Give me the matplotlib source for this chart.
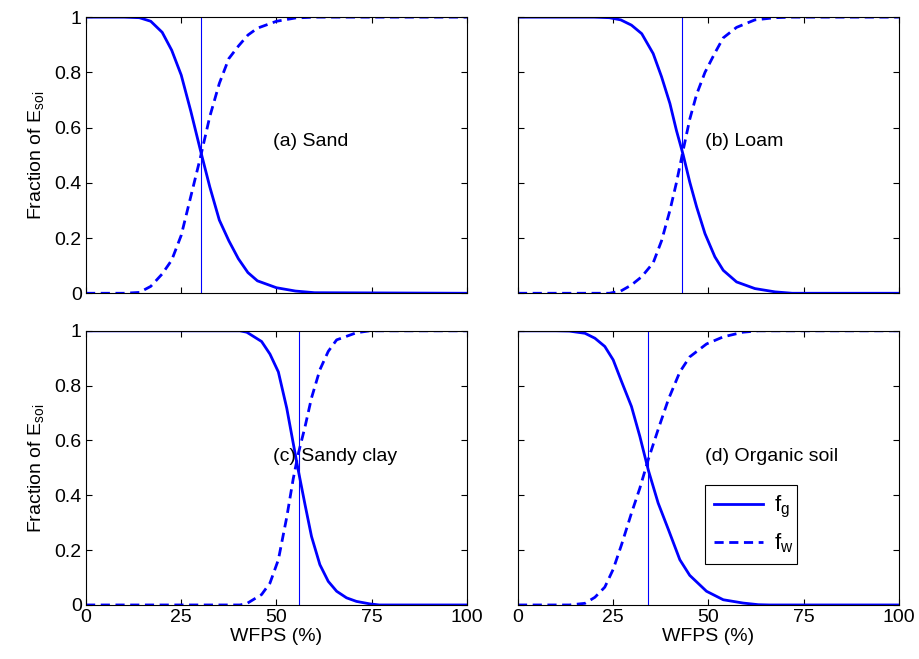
import matplotlib
matplotlib.use('Agg')
import matplotlib.pyplot as plt

plt.rcParams['font.family'] = ['Liberation Sans', 'DejaVu Sans']
plt.rcParams['mathtext.fontset'] = 'custom'
plt.rcParams['mathtext.rm'] = 'Liberation Sans'
plt.rcParams['mathtext.it'] = 'Liberation Sans'

# WFPS (%) sample points and curves
# (a) Sand
sand_x = [0, 10, 14, 17, 20, 22.5, 25, 27.5, 30, 32.5, 35, 37.5, 40, 42.5, 45, 50, 55, 60, 100]
sand_fg = [1, 1, 0.998, 0.985, 0.945, 0.88, 0.79, 0.66, 0.52, 0.385, 0.265, 0.19, 0.125, 0.075, 0.045, 0.02, 0.008, 0.002, 0]
sand_fw = [0, 0, 0.003, 0.025, 0.07, 0.12, 0.21, 0.35, 0.49, 0.64, 0.76, 0.85, 0.895, 0.935, 0.96, 0.985, 0.997, 1, 1]
sand_vline = 30.2

# (b) Loam
loam_x = [0, 20, 24, 27, 29.8, 32.5, 35.5, 37.7, 39.9, 41.6, 43.4, 45.1, 46.9, 49.1, 51.7, 53.9, 57.4, 62.2, 67.5, 72, 100]
loam_fg = [1, 1, 0.998, 0.99, 0.971, 0.94, 0.868, 0.784, 0.687, 0.59, 0.5, 0.403, 0.313, 0.216, 0.132, 0.083, 0.041, 0.017, 0.005, 0, 0]
loam_fw = [0, 0, 0, 0.008, 0.03, 0.06, 0.11, 0.19, 0.30, 0.40, 0.52, 0.63, 0.72, 0.80, 0.87, 0.925, 0.963, 0.99, 0.998, 1, 1]
loam_vline = 43.1

# (c) Sandy clay
clay_x = [0, 38, 40.4, 42.2, 46.1, 48.3, 50.5, 52.7, 54.4, 55.7, 57.5, 59.2, 61.4, 63.6, 65.8, 68.4, 71, 74.5, 77, 100]
clay_fg = [1, 1, 1, 0.995, 0.961, 0.915, 0.85, 0.718, 0.59, 0.493, 0.366, 0.25, 0.147, 0.086, 0.05, 0.026, 0.013, 0.004, 0, 0]
clay_fw = [0, 0, 0, 0.005, 0.038, 0.08, 0.165, 0.32, 0.46, 0.55, 0.65, 0.755, 0.858, 0.925, 0.967, 0.98, 0.993, 1, 1, 1]
clay_vline = 56.0

# (d) Organic soil
org_x = [0, 10, 13.5, 17.6, 20.2, 22.8, 25, 27.2, 29.8, 32, 34.2, 36.8, 39.5, 42.5, 45.1, 49.5, 53.9, 59.1, 63.1, 66, 100]
org_fg = [1, 1, 0.999, 0.991, 0.973, 0.943, 0.894, 0.815, 0.724, 0.615, 0.493, 0.372, 0.275, 0.165, 0.108, 0.05, 0.019, 0.007, 0.001, 0, 0]
org_fw = [0, 0, 0, 0.006, 0.028, 0.065, 0.13, 0.22, 0.335, 0.426, 0.53, 0.64, 0.75, 0.85, 0.905, 0.952, 0.978, 0.995, 1, 1, 1]
org_vline = 34.2

panels = [
    ('(a) Sand', sand_x, sand_fg, sand_fw, sand_vline, 0.55),
    ('(b) Loam', loam_x, loam_fg, loam_fw, loam_vline, 0.55),
    ('(c) Sandy clay', clay_x, clay_fg, clay_fw, clay_vline, 0.54),
    ('(d) Organic soil', org_x, org_fg, org_fw, org_vline, 0.54),
]

xticks = [0, 25, 50, 75, 100]
yticks = [0, 0.2, 0.4, 0.6, 0.8, 1]
yticklabels = ['0', '0.2', '0.4', '0.6', '0.8', '1']

fig = plt.figure(figsize=(9.2, 6.59), dpi=100)
rects = [
    [0.0935, 0.555, 0.414, 0.419],
    [0.563, 0.555, 0.414, 0.419],
    [0.0935, 0.082, 0.414, 0.416],
    [0.563, 0.082, 0.414, 0.416],
]

blue = (0, 0, 1)
fs = 14
for i, (label, x, fg, fw, vline, ty) in enumerate(panels):
    ax = fig.add_axes(rects[i])
    ax.plot(x, fg, '-', color=blue, linewidth=2.0, label=r'f$_\mathregular{g}$')
    ax.plot(x, fw, color=blue, linewidth=2.0, linestyle=(0, (3.3, 2.0)),
            label=r'f$_\mathregular{w}$')
    ax.axvline(vline, color=blue, linewidth=0.8)
    ax.text(49, ty, label, fontsize=fs, ha='left', va='center')

    ax.set_xlim(0, 100)
    ax.set_ylim(0, 1)
    ax.set_xticks(xticks)
    ax.set_yticks(yticks)
    ax.tick_params(direction='in', top=True, right=True, length=4,
                   labelsize=fs, pad=3)
    for sp in ax.spines.values():
        sp.set_linewidth(0.8)

    if i % 2 == 0:
        ax.set_yticklabels(yticklabels)
        ax.set_ylabel(r'Fraction of E$_\mathregular{soi}$', fontsize=fs, labelpad=6)
    else:
        ax.set_yticklabels([])
    if i >= 2:
        ax.set_xlabel('WFPS (%)', fontsize=fs, labelpad=1)
    else:
        ax.set_xticklabels([])

    if i == 3:
        leg = ax.legend(loc='lower left', bbox_to_anchor=(0.491, 0.15, 0.241, 0.306),
                        mode='expand', fontsize=16, handlelength=2.2,
                        handletextpad=0.5, fancybox=False, framealpha=1,
                        borderaxespad=0, labelspacing=0.5, borderpad=0.4)
        leg.get_frame().set_edgecolor('black')
        leg.get_frame().set_linewidth(0.8)

fig.savefig('out.png', dpi=100)
